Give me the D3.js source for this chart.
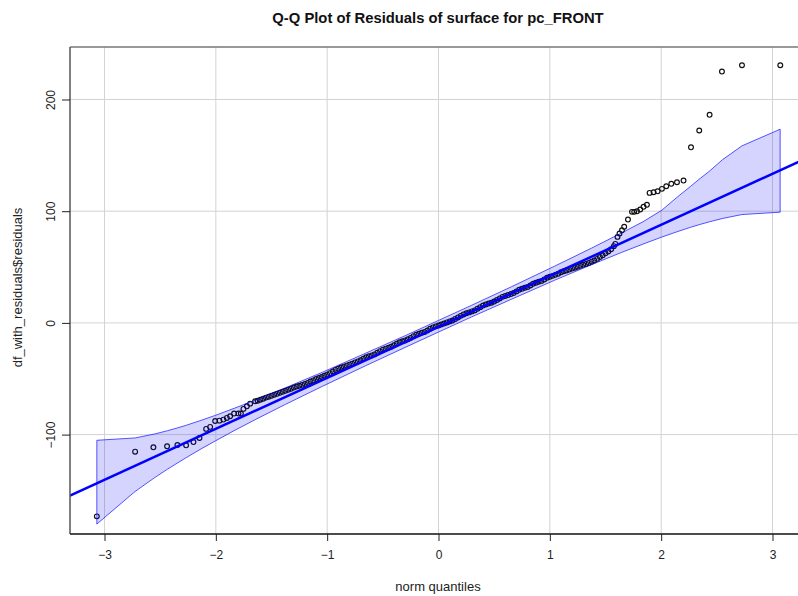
<!DOCTYPE html>
<html><head><meta charset="utf-8">
<script src="https://cdn.jsdelivr.net/npm/d3@7/dist/d3.min.js"></script>
<style>body{margin:0;background:#fff}svg{display:block;font-family:"Liberation Sans",Arial,sans-serif}</style>
</head><body><svg id="chart" width="798" height="596"></svg>
<script>
const title = "Q-Q Plot of Residuals of surface for pc_FRONT";
const xLabel = "norm quantiles";
const yLabel = "df_with_residuals$residuals";
const xTicks = [-3, -2, -1, 0, 1, 2, 3];
const yTicks = [-100, 0, 100, 200];

// theoretical normal quantiles (x) of the plotted points
const normQ = [
-3.069,-2.725,-2.561,-2.438,-2.345,-2.267,-2.201,-2.147,-2.087,-2.051,-2.006,-1.968,-1.932,-1.901,-1.872,-1.836,-1.797,-1.775,-1.752,-1.721,-1.692,-1.647,
-1.625,-1.600,-1.575,-1.550,-1.525,-1.500,-1.475,-1.450,-1.425,-1.400,-1.375,-1.350,-1.325,-1.300,-1.275,-1.250,-1.225,-1.200,-1.175,-1.150,-1.125,-1.100,-1.075,-1.050,-1.025,-1.000,
-0.975,-0.950,-0.925,-0.900,-0.875,-0.850,-0.825,-0.800,-0.775,-0.750,-0.725,-0.700,-0.675,-0.650,-0.625,-0.600,-0.575,-0.550,-0.525,-0.500,-0.475,-0.450,-0.425,-0.400,-0.375,-0.350,-0.325,-0.300,-0.275,-0.250,-0.225,-0.200,-0.175,-0.150,-0.125,-0.100,-0.075,-0.050,-0.025,
0.000,0.025,0.050,0.075,0.100,0.125,0.150,0.175,0.200,0.225,0.250,0.275,0.300,0.325,0.350,0.375,0.400,0.425,0.450,0.475,0.500,0.525,0.550,0.575,0.600,0.625,0.650,0.675,0.700,0.725,0.750,0.775,0.800,0.825,0.850,0.875,0.900,0.925,0.950,0.975,
1.000,1.025,1.050,1.075,1.100,1.125,1.150,1.175,1.200,1.225,1.250,1.275,1.300,1.325,1.350,1.375,1.400,1.425,1.450,1.475,1.500,1.525,1.550,1.575,
1.588,1.608,1.626,1.648,1.668,1.702,1.738,1.758,1.783,1.812,1.842,1.872,1.896,1.932,1.968,2.007,2.046,2.091,2.142,2.201,2.268,2.342,2.435,2.546,2.726,3.070
];
// sorted residuals (y)
const residuals = [
-173.2,-115.3,-111.4,-110.5,-109.3,-109.6,-106.7,-103.0,-94.9,-93.1,-87.8,-87.5,-86.6,-85.1,-83.6,-81.2,-81.2,-81.2,-77.0,-74.7,-72.3,-70.2,
-69.7,-68.8,-67.9,-66.9,-66.1,-65.3,-64.3,-63.5,-62.6,-61.7,-60.8,-59.8,-58.9,-57.9,-57.0,-56.3,-55.5,-54.7,-53.7,-52.5,-51.5,-50.3,-49.3,-48.4,-47.3,-46.3,
-45.0,-43.5,-42.1,-41.0,-40.0,-39.2,-38.3,-37.4,-36.5,-35.4,-34.5,-33.5,-32.1,-30.8,-29.9,-29.1,-28.2,-26.7,-25.3,-24.0,-23.1,-22.3,-21.4,-20.1,-18.7,-17.3,-16.5,-15.7,-14.7,-13.4,-11.9,-10.6,-9.8,-8.9,-8.1,-6.8,-5.3,-4.0,-3.1,
-2.3,-1.5,-0.5,0.4,1.3,2.1,3.4,4.9,6.3,7.6,8.6,9.4,10.3,11.2,12.6,14.1,15.5,16.4,17.3,18.1,19.1,20.5,21.9,23.3,24.1,24.9,25.8,26.7,28.2,29.6,30.5,31.4,32.2,33.5,35.0,35.9,36.8,37.6,38.9,40.4,
41.3,42.1,43.0,43.9,45.4,46.2,46.9,47.7,48.6,49.4,50.3,51.1,52.0,52.8,53.7,54.8,55.9,57.3,59.0,60.6,62.3,63.9,66.0,68.7,
70.7,77.0,80.0,82.9,86.0,92.5,99.4,99.4,99.9,101.5,103.9,105.7,116.4,117.0,117.8,120.0,122.3,124.5,125.9,127.4,157.2,172.2,186.3,225.0,230.7,230.7
];

// confidence envelope
const bandQ  = [-3.069,-2.726,-2.552,-2.433,-2.341,-2.265,-2.143,-2.005,-1.836,-1.642,-1.374,-1.041,-0.656,-0.294,0,0.294,0.656,1.041,1.374,1.642,1.836,2.005,2.143,2.265,2.341,2.433,2.552,2.726,3.069];
const bandLo = [-180.1,-151.0,-138.7,-130.9,-125.2,-120.6,-113.4,-105.7,-96.5,-86.4,-72.9,-56.7,-38.4,-21.7,-8.2,5.2,21.2,38.1,52.1,63.0,70.5,76.8,81.6,85.6,87.9,90.5,93.5,97.0,99.1];
const bandHi = [-105.1,-103.0,-99.5,-96.5,-93.9,-91.6,-87.6,-82.8,-76.5,-69.0,-58.1,-44.1,-27.2,-11.2,2.2,15.6,32.4,50.7,66.9,80.4,90.5,100.8,112.5,122.3,128.6,135.8,146.2,158.5,173.4];

// reference line endpoints
const lineQ = [-3.31, 3.31];
const lineR = [-154.6, 147.6];

const svg = d3.select("#chart");
const L = 70, R = 807, T = 47, B = 534;
const x = d3.scaleLinear().domain([-3.31, 3.31]).range([L, R]);
const y = d3.scaleLinear().domain([-189, 247]).range([B, T]);

svg.append("rect").attr("width", 798).attr("height", 596).attr("fill", "#fff");
svg.append("defs").append("clipPath").attr("id", "clip")
  .append("rect").attr("x", L).attr("y", T).attr("width", R - L).attr("height", B - T);

const plot = svg.append("g").attr("clip-path", "url(#clip)");

// grid
plot.append("g").selectAll("line").data(xTicks).join("line")
  .attr("x1", d => x(d)).attr("x2", d => x(d)).attr("y1", T).attr("y2", B)
  .attr("stroke", "#d3d3d3").attr("stroke-width", 1);
plot.append("g").selectAll("line").data(yTicks).join("line")
  .attr("x1", L).attr("x2", R).attr("y1", d => y(d)).attr("y2", d => y(d))
  .attr("stroke", "#d3d3d3").attr("stroke-width", 1);

// points
const pts = normQ.map((q, i) => ({q, r: residuals[i]}));
plot.append("g").selectAll("circle").data(pts).join("circle")
  .attr("cx", d => x(d.q)).attr("cy", d => y(d.r)).attr("r", 2.4)
  .attr("fill", "none").attr("stroke", "#111").attr("stroke-width", 1.15);

// envelope
const band = bandQ.map((q, i) => ({q, lo: bandLo[i], hi: bandHi[i]}));
const poly = band.map(d => [x(d.q), y(d.hi)]).concat(band.slice().reverse().map(d => [x(d.q), y(d.lo)]));
plot.append("path").attr("d", d3.line()(poly) + "Z")
  .attr("fill", "#0000ff").attr("fill-opacity", 0.17)
  .attr("stroke", "#0000ff").attr("stroke-opacity", 0.65).attr("stroke-width", 1);

// reference line
plot.append("path")
  .attr("d", d3.line()(lineQ.map((q, i) => [x(q), y(lineR[i])])))
  .attr("stroke", "#0000ff").attr("stroke-width", 2.5).attr("fill", "none");

// box
svg.append("line").attr("x1", L).attr("x2", R).attr("y1", T).attr("y2", T).attr("stroke", "#777").attr("stroke-width", 1.5);
svg.append("line").attr("x1", L).attr("x2", L).attr("y1", T).attr("y2", B).attr("stroke", "#555").attr("stroke-width", 1.5);
svg.append("line").attr("x1", L).attr("x2", R).attr("y1", B).attr("y2", B).attr("stroke", "#111").attr("stroke-width", 1.3);

// axes
const xAxis = svg.append("g").attr("transform", `translate(0,${B})`)
  .call(d3.axisBottom(x).tickValues(xTicks).tickSize(7).tickPadding(9).tickFormat(d3.format("d")));
xAxis.select(".domain").remove();
xAxis.selectAll("text").attr("font-size", 12).attr("fill", "#222").attr("font-family", "Liberation Sans, Arial, sans-serif");
xAxis.selectAll("line").attr("stroke", "#222");

const yAxis = svg.append("g").attr("transform", `translate(${L},0)`)
  .call(d3.axisLeft(y).tickValues(yTicks).tickSize(8).tickPadding(0).tickFormat(d3.format("d")));
yAxis.select(".domain").remove();
yAxis.selectAll("line").attr("stroke", "#222");
yAxis.selectAll("text").attr("font-size", 12).attr("fill", "#222")
  .attr("font-family", "Liberation Sans, Arial, sans-serif")
  .attr("text-anchor", "middle").attr("dy", null).attr("x", null)
  .attr("transform", d => `translate(-19,0) rotate(-90)`)
  .attr("dominant-baseline", "central");

// titles
svg.append("text").attr("x", 438).attr("y", 23).attr("text-anchor", "middle")
  .attr("font-size", 14.8).attr("font-weight", "bold").attr("fill", "#111").text(title);
svg.append("text").attr("x", 438).attr("y", 591).attr("text-anchor", "middle")
  .attr("font-size", 13).attr("fill", "#222").text(xLabel);
svg.append("text").attr("transform", `translate(17,${(T + B) / 2 - 3}) rotate(-90)`)
  .attr("text-anchor", "middle").attr("dominant-baseline", "central")
  .attr("font-size", 13).attr("fill", "#222").text(yLabel);
</script></body></html>
